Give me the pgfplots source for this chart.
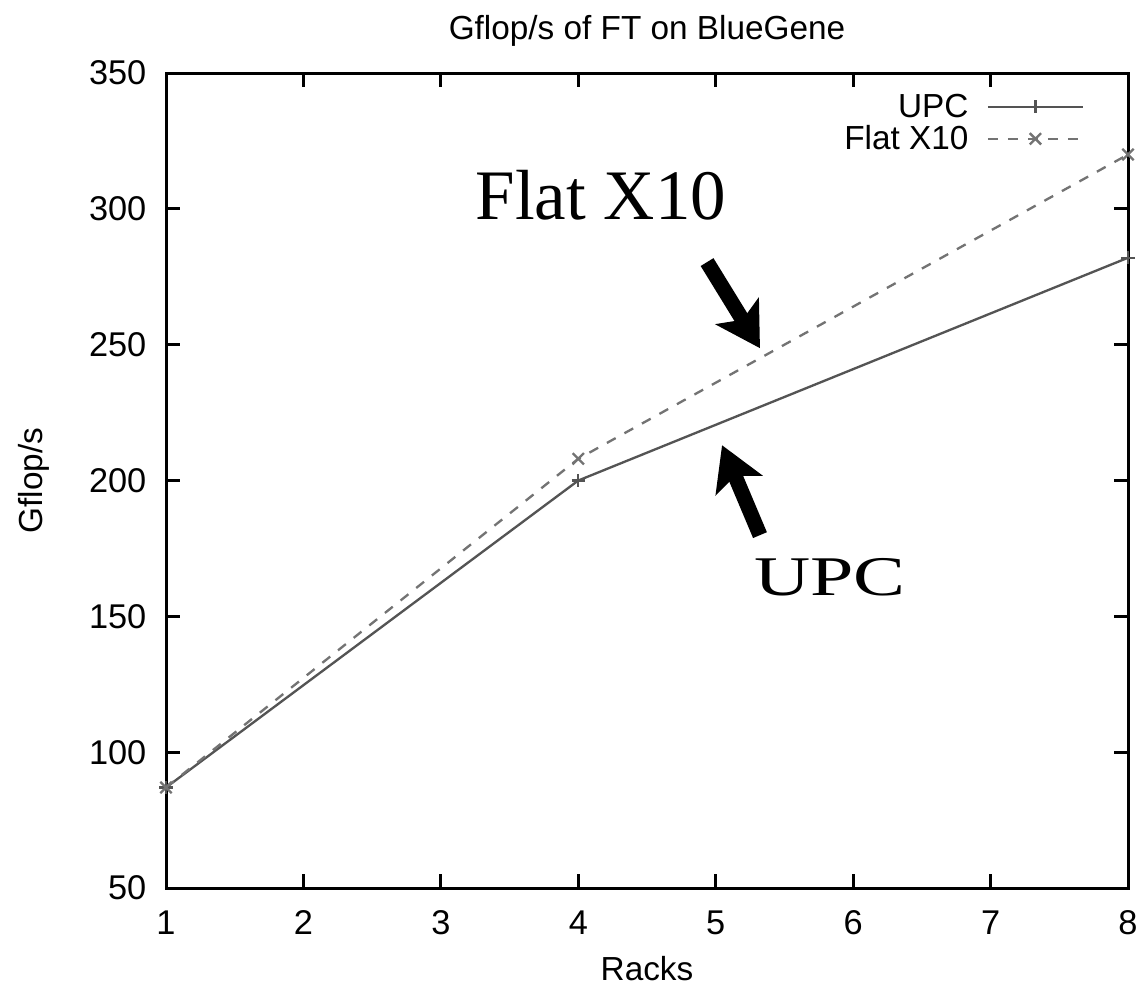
\documentclass[border=0pt]{standalone}
\usepackage{pgfplots}
\pgfplotsset{compat=1.18}
\usepackage{fontspec}
\setmainfont{Liberation Sans}
\newfontfamily\annfont{Liberation Serif}
\usetikzlibrary{arrows.meta}
\definecolor{upccol}{gray}{0.33}
\definecolor{x10col}{gray}{0.45}
\begin{document}
\begin{tikzpicture}
\begin{axis}[
  scale only axis,
  width=288.6pt, height=244.5pt,
  xmin=1, xmax=8, ymin=50, ymax=350,
  xtick={1,2,3,4,5,6,7,8},
  ytick={50,100,150,200,250,300,350},
  tick align=inside,
  major tick length=4.2pt,
  axis line style={line width=0.9pt},
  every tick/.style={line width=0.9pt, black},
  /pgf/number format/assume math mode=true,
  tick label style={font=\fontsize{10.3}{12}\selectfont, inner sep=0pt},
  xticklabel style={yshift=-6.6pt},
  yticklabel style={xshift=-5.7pt},
  title={Gflop/s of FT on BlueGene},
  title style={font=\fontsize{10}{12}\selectfont, inner sep=0pt, at={(axis description cs:0.5,1)}, anchor=base, yshift=4.2pt},
  xlabel={Racks}, ylabel={Gflop/s},
  xlabel style={font=\fontsize{10}{12}\selectfont, inner sep=0pt, at={(axis description cs:0.5,0)}, anchor=base, yshift=-27.6pt},
  ylabel style={font=\fontsize{10}{12}\selectfont, inner sep=0pt, at={(axis description cs:-0.1279,0.5)}, anchor=base},
  legend style={draw=none, fill=none, inner sep=0pt, at={(axis description cs:0.955,0.979)}, anchor=north east,
    font=\fontsize{10}{12}\selectfont, row sep=0pt,
    nodes={inner sep=0.5pt, text height=7.5pt, text depth=1.1pt}},
  legend cell align=right,
  legend plot pos=right,
  legend image code/.code={\path (0pt,0pt); \draw[mark repeat=2,mark phase=2] plot coordinates {(5pt,0pt) (19.25pt,0pt) (33.5pt,0pt)};},
  clip=false,
]
\addplot[color=upccol, line width=0.7pt, mark=+, mark size=2pt, mark options={solid, line width=0.7pt}]
  coordinates {(1,87) (4,200) (8,282)};
\addlegendentry{UPC}
\addplot[color=x10col, line width=0.7pt, dashed, mark=x, mark size=2.4pt, mark options={solid, line width=0.7pt}]
  coordinates {(1,87) (4,208) (8,320)};
\addlegendentry{Flat X10}
\node[font=\annfont\fontsize{21.3}{25}\selectfont, anchor=base] at (axis cs:4.165,296.2) {Flat X10};
\node[font=\annfont\fontsize{16.8}{20}\selectfont, anchor=base, xscale=1.39] at (axis cs:5.83,157.8) {UPC};
\draw[line width=4.5pt, -{Stealth[length=13pt,width=15pt,inset=3pt]}] (axis cs:4.937,280.4) -- (axis cs:5.322,248.7);
\draw[line width=4.5pt, -{Stealth[length=13pt,width=15pt,inset=3pt]}] (axis cs:5.322,179.9) -- (axis cs:5.046,213);
\path (axis description cs:-0.17256,-0.1227) rectangle (axis description cs:1.01247,1.08957);
\end{axis}
\end{tikzpicture}
\end{document}
